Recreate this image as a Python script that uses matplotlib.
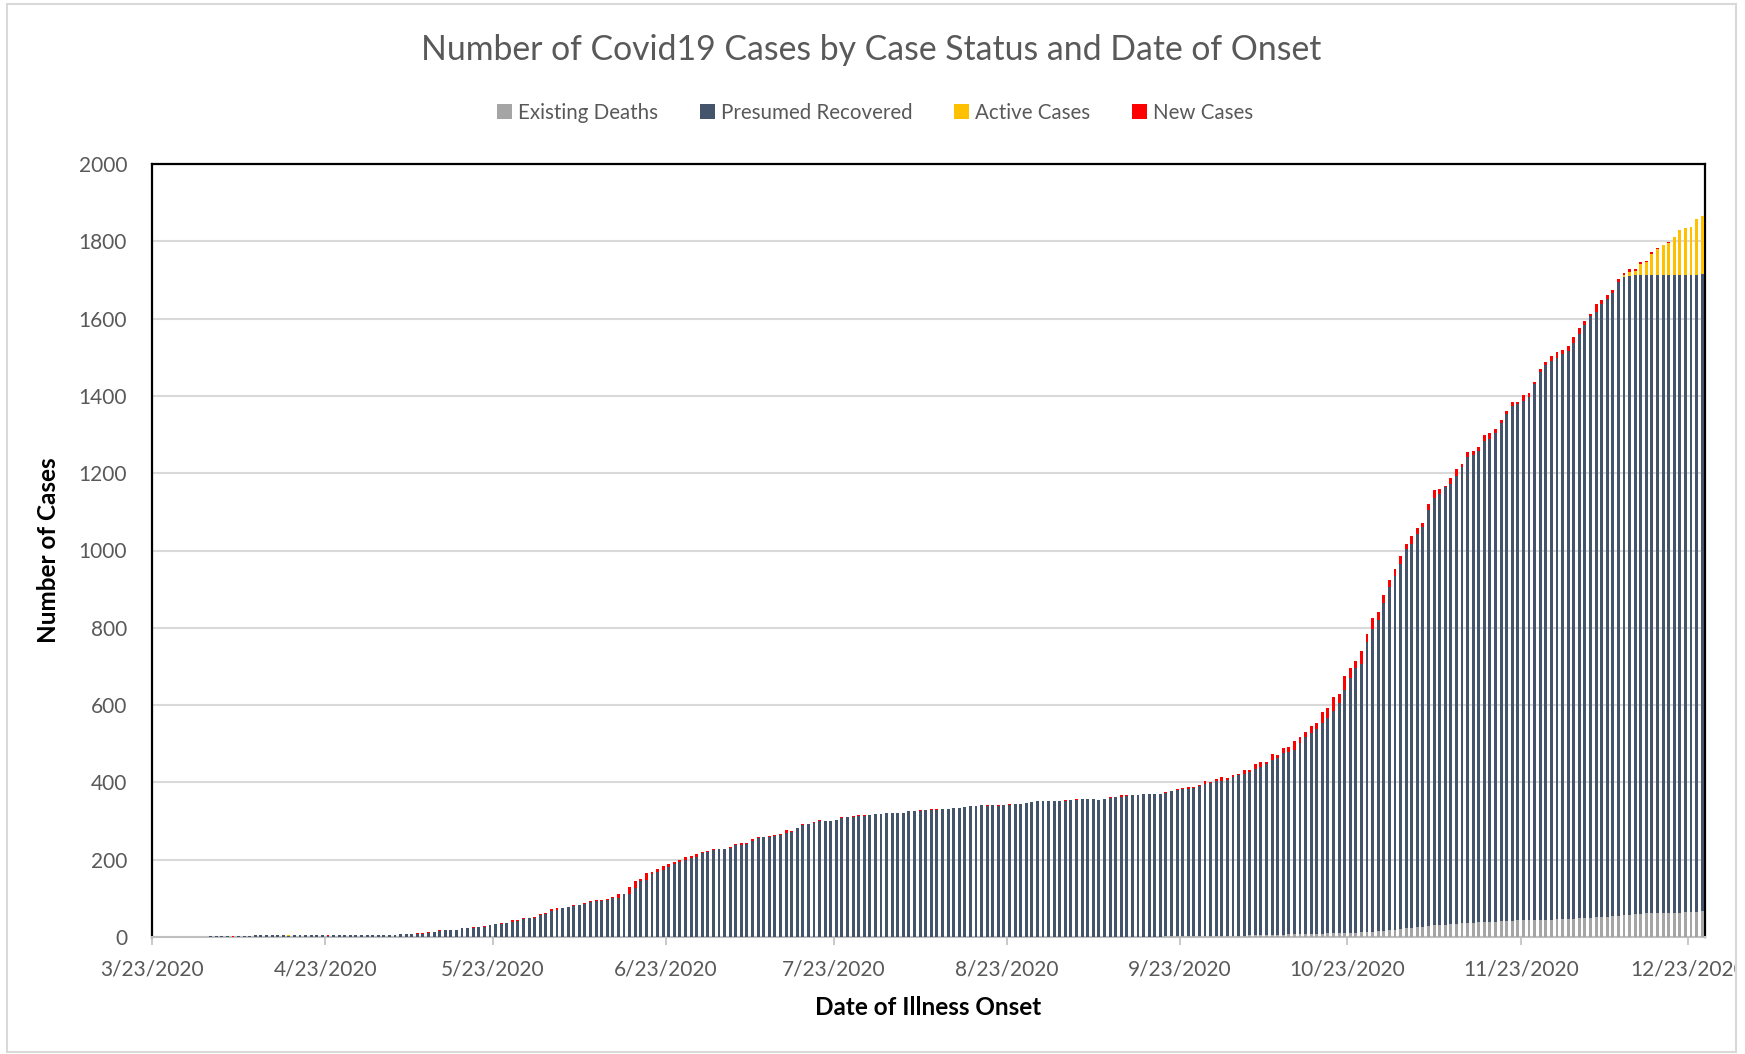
import matplotlib
matplotlib.use("Agg")
import matplotlib.pyplot as plt
import matplotlib.dates as mdates
from matplotlib.patches import Patch, Rectangle
from matplotlib.transforms import Bbox, TransformedBbox
import numpy as np
import pandas as pd

plt.rcParams['font.family'] = ['Lato', 'DejaVu Sans']

# ---------------- data ----------------
dates = pd.date_range("2020-03-23", "2020-12-25", freq="D")

tick_dates = ["2020-03-23", "2020-04-23", "2020-05-23", "2020-06-23", "2020-07-23",
              "2020-08-23", "2020-09-23", "2020-10-23", "2020-11-23", "2020-12-23"]
tick_labels = ["3/23/2020", "4/23/2020", "5/23/2020", "6/23/2020", "7/23/2020",
               "8/23/2020", "9/23/2020", "10/23/2020", "11/23/2020", "12/23/2020"]

existing_deaths = ([0] * 171 + [1] * 10 + [2] * 10 + [3] * 5 + [4] * 5 +
    [6, 6, 7, 7, 8, 8, 9, 9, 9, 10, 10, 10, 11, 11, 11,
     12, 13, 14, 15, 15, 17, 18, 20, 22, 23,
     25, 27, 29, 30, 31, 32, 33, 34, 35, 36,
     37, 38, 39, 40, 40, 41, 42, 42,
     43, 43, 43, 44, 44, 45, 45, 46, 46, 47,
     47, 48, 49, 50, 51, 52, 53, 54, 55, 57,
     58, 60, 60, 61, 61, 62, 62, 62, 63, 63,
     64, 64, 65, 66])

presumed_recovered = [
    0, 0, 0, 1, 1, 1, 1, 1, 1, 1,
    2, 2, 2, 2, 1, 2, 2, 2, 4, 4,
    4, 4, 4, 4, 3, 4, 4, 4, 4, 4,
    4, 3, 5, 5, 5, 5, 5, 5, 5, 5,
    5, 5,
    4, 6, 7, 8, 8, 9, 8, 11, 13, 16,
    18, 19, 19, 22, 22, 24, 26, 26, 30, 33,
    34, 36, 40, 42, 46, 48, 50, 57, 60, 66,
    71, 75, 77, 81, 82, 86, 90, 94, 94, 97,
    101, 102, 110,
    110, 128, 145, 147, 163, 167, 174, 181, 188, 195,
    199, 205, 208, 218, 221, 225, 227, 227, 231, 238,
    238, 240, 249, 255, 258, 260, 262, 263, 268, 271,
    282, 290, 292, 296, 299, 299, 300, 302, 309, 311,
    311, 313, 314, 316, 318,
    319, 321, 321, 322, 322, 325, 326, 326, 328, 328,
    329, 330, 332, 334, 334, 336, 338, 339, 341, 339,
    342, 340, 341, 342, 344, 344, 346, 349, 351, 351,
    352, 352, 351, 353, 354, 355, 356, 356, 356, 355,
    358, 359, 361, 362,
    365, 366, 366, 368, 369, 370, 370, 370, 375, 378,
    381, 382, 383, 388, 393, 396, 401, 401, 404, 411,
    416, 419, 423, 431, 436, 443, 454, 456, 469, 472,
    478, 494, 509, 518, 529, 544, 556, 575, 595, 628,
    660, 686,
    695, 751, 784, 805, 848, 889, 916, 944, 982, 995,
    1018, 1034, 1077, 1107, 1114, 1133, 1138, 1158, 1180, 1205,
    1211, 1220, 1244, 1249, 1264, 1289, 1310, 1332,
    1335, 1345, 1354, 1387, 1417, 1436, 1445, 1453, 1463, 1470,
    1489, 1513, 1534, 1557, 1567, 1586, 1599, 1611, 1639, 1651,
    1652, 1654, 1652, 1651, 1651, 1650, 1650, 1650, 1649, 1650,
    1649, 1650, 1649, 1649]

active_cases = ([0] * 24 + [1] + [0] * 23 + [1] + [0] * 214 +
    [4, 10, 10, 29, 35, 56, 68, 78, 84, 98, 115, 121, 124, 144, 151])

new_cases = ([0] * 14 + [1, 0, 0, 1] + [0] * 13 + [1] + [0] * 10 +
    [1, 0, 1, 0, 1, 1, 1, 3, 1, 2,
     1, 0, 0, 1, 2, 2, 0, 2, 1, 1,
     2, 1, 3, 1, 3, 1, 2, 2, 3, 6,
     3, 1, 1, 2, 2, 2, 3, 1, 1, 2,
     2, 8, 1,
     19, 17, 4, 18, 5, 8, 9, 8, 7, 4,
     7, 4, 8, 3, 2, 2, 0, 0, 3, 3,
     5, 3, 4, 4, 2, 2, 2, 3, 9, 3,
     1, 2, 0, 1, 3, 2, 0, 1, 1, 0,
     2, 3, 2, 0, 0,
     0, 0, 0, 0, 0, 2, 1, 3, 1, 3,
     2, 1, 0, 0, 0, 0, 0, 1, 0, 2,
     0, 1, 1, 3, 0, 1, 1, 0, 1, 0,
     1, 1, 2, 2, 1, 2, 1, 1, 1, 0,
     0, 2, 0, 5,
     2, 1, 1, 1, 1, 0, 0, 3, 2, 2,
     2, 5, 4, 4, 8, 4, 5, 9, 4, 4,
     3, 11, 6, 12, 14, 6, 16, 10, 14, 12,
     21, 16, 13, 19, 15, 29, 26, 35, 23, 35,
     24, 18,
     34, 21, 28, 21, 22, 17, 17, 21, 12, 20,
     16, 11, 14, 19, 13, 3, 17, 18, 10, 15,
     9, 10, 16, 14, 10, 7, 8, 10,
     6, 14, 10, 5, 8, 7, 14, 14, 10, 11,
     16, 14, 12, 6, 20, 10, 9, 10, 8, 5,
     8, 5, 6, 3, 5, 2, 1, 2, 0, 0,
     0, 0, 0, 0])

series_names = ["Existing Deaths", "Presumed Recovered", "Active Cases", "New Cases"]
series_colors = ["#A5A5A5", "#44546A", "#FFC000", "#FF0000"]

# ---------------- figure ----------------
W, H = 1745, 1054
fig = plt.figure(figsize=(W / 100, H / 100), dpi=100)
ax = fig.add_axes([152 / W, 1 - 937 / H, (1705 - 152) / W, (937 - 164) / H])

x = mdates.date2num(dates.to_pydatetime()) + 0.5
stacks = [np.array(existing_deaths), np.array(presumed_recovered),
          np.array(active_cases), np.array(new_cases)]
bottom = np.zeros(len(dates))
for vals, col in zip(stacks, series_colors):
    ax.bar(x, vals, width=0.52, bottom=bottom, color=col, linewidth=0, zorder=3)
    bottom = bottom + vals

x0 = mdates.date2num(dates[0].to_pydatetime())
x1 = mdates.date2num(dates[-1].to_pydatetime()) + 1
ax.set_xlim(x0, x1)
ax.set_ylim(0, 2000)
ax.set_yticks(np.arange(0, 2001, 200))
ax.set_yticklabels([str(v) for v in range(0, 2001, 200)])
ax.yaxis.grid(True, color="#D9D9D9", linewidth=1.5, zorder=0)
ax.set_axisbelow(True)

tick_pos = [mdates.date2num(pd.Timestamp(t).to_pydatetime()) for t in tick_dates]
ax.set_xticks(tick_pos)
ax.set_xticklabels(tick_labels)

ax.tick_params(axis="y", length=0, pad=18, labelsize=15, labelcolor="#595959")
ax.tick_params(axis="x", length=6, width=1.2, color="#BFBFBF", direction="out",
               pad=10, labelsize=15, labelcolor="#595959")

for side in ["top", "left", "right"]:
    ax.spines[side].set_color("black")
    ax.spines[side].set_linewidth(1.6)
ax.spines["bottom"].set_color("#BFBFBF")
ax.spines["bottom"].set_linewidth(1.5)

ax.set_xlabel("Date of Illness Onset", fontsize=17.5, fontweight="bold", color="black", labelpad=12)
ax.set_ylabel("Number of Cases", fontsize=17.5, fontweight="bold", color="black", labelpad=13)

fig.text(0.499, 1 - 50 / H, "Number of Covid19 Cases by Case Status and Date of Onset",
         ha="center", va="center", fontsize=24.3, color="#595959")

handles = [Patch(facecolor=c, edgecolor="none") for c in series_colors]
leg = fig.legend(handles, series_names, loc="center", bbox_to_anchor=(0.5015, 1 - 113 / H),
                 ncol=4, frameon=False, fontsize=14.8, handlelength=0.75, handleheight=0.75,
                 handletextpad=0.3, columnspacing=2.0)
for t in leg.get_texts():
    t.set_color("#595959")

# outer chart border
fig.patches.append(Rectangle((7 / W, 2 / H), (1736 - 7) / W, (1050 - 2) / H,
                             transform=fig.transFigure, fill=False,
                             edgecolor="#D9D9D9", linewidth=1.5))

# clip tick labels at the chart border (last label is cut off in the original)
clip = TransformedBbox(Bbox([[0, 0], [1736 / W, 1]]), fig.transFigure)
for lbl in ax.get_xticklabels():
    lbl.set_clip_box(clip)
    lbl.set_clip_on(True)

fig.savefig("out.png", dpi=100)
